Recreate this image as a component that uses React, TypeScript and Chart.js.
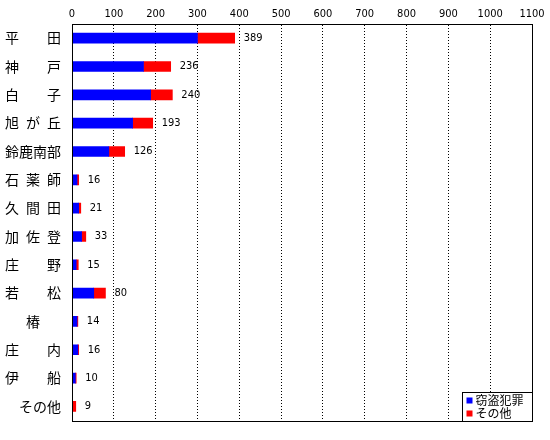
import { useEffect, useRef } from "react"
import { Chart, registerables } from "chart.js"

Chart.register(...registerables)

// 地区名（全角スペースで幅をそろえる）
const areas = [
  "平\u3000\u3000田",
  "神\u3000\u3000戸",
  "白\u3000\u3000子",
  "旭\u2002が\u2002丘",
  "鈴鹿南部",
  "石\u2002薬\u2002師",
  "久\u2002間\u2002田",
  "加\u2002佐\u2002登",
  "庄\u3000\u3000野",
  "若\u3000\u3000松",
  "\u3000\u2002椿",
  "庄\u3000\u3000内",
  "伊\u3000\u3000船",
  "\u3000その他",
]
const theft = [300, 171, 188, 145, 88, 12, 16, 23, 10, 52, 12, 14, 8, 0]
const others = [89, 65, 52, 48, 38, 4, 5, 10, 5, 28, 2, 2, 2, 9]
const seriesNames = ["窃盗犯罪", "その他"]
const seriesColors = ["#0000ff", "#ff0000"]

const jp = "'Noto Sans CJK JP', sans-serif"
const num = "'Liberation Sans Narrow', 'DejaVu Sans Condensed', 'Noto Sans', sans-serif"

const framePlugin = {
  id: "frame",
  afterDatasetsDraw(chart: Chart) {
    const { ctx, chartArea } = chart
    const metas = chart.data.datasets.map((_, i) => chart.getDatasetMeta(i))
    ctx.save()
    // totals beside bars
    ctx.fillStyle = "#000"
    ctx.font = `11px ${num}`
    ctx.textBaseline = "middle"
    ctx.textAlign = "left"
    areas.forEach((_, i) => {
      const total = theft[i] + others[i]
      const bar: any = metas[metas.length - 1].data[i]
      ctx.fillText(String(total), bar.x + 9, bar.y)
    })
    // plot box
    ctx.strokeStyle = "#000"
    ctx.lineWidth = 1
    ctx.strokeRect(
      Math.round(chartArea.left) + 0.5,
      Math.round(chartArea.top) + 0.5,
      Math.round(chartArea.right - chartArea.left),
      Math.round(chartArea.bottom - chartArea.top)
    )
    // legend in lower right corner
    const w = 70
    const h = 29
    const lx = Math.round(chartArea.right) - w + 0.5
    const ly = Math.round(chartArea.bottom) - h + 0.5
    ctx.fillStyle = "#fff"
    ctx.fillRect(lx, ly, w, h)
    ctx.strokeRect(lx, ly, w, h)
    ctx.font = `12px ${jp}`
    seriesNames.forEach((name, i) => {
      const cy = ly + 8 + i * 13
      ctx.fillStyle = seriesColors[i]
      ctx.fillRect(lx + 4, cy - 3, 6, 6)
      ctx.fillStyle = "#000"
      ctx.fillText(name, lx + 13, cy)
    })
    ctx.restore()
  },
}

function BarChart() {
  const canvasRef = useRef<HTMLCanvasElement>(null)
  const chartRef = useRef<Chart | null>(null)

  useEffect(() => {
    if (!canvasRef.current) return
    document.body.style.margin = "0"
    chartRef.current?.destroy()

    chartRef.current = new Chart(canvasRef.current, {
      type: "bar",
      data: {
        labels: areas,
        datasets: [
          { label: seriesNames[0], data: theft, backgroundColor: seriesColors[0], barThickness: 10 },
          { label: seriesNames[1], data: others, backgroundColor: seriesColors[1], barThickness: 10 },
        ],
      },
      options: {
        indexAxis: "y",
        animation: false,
        responsive: false,
        devicePixelRatio: 1,
        layout: { padding: { left: 5, right: 18, top: 0, bottom: 19 } },
        plugins: {
          legend: { display: false },
          tooltip: { enabled: false },
        },
        scales: {
          x: {
            position: "top",
            stacked: true,
            min: 0,
            max: 1100,
            afterFit: (scale: any) => {
              scale.height = 24
            },
            ticks: {
              stepSize: 100,
              color: "#000",
              font: { family: num, size: 11 },
              padding: 3,
              callback: (v: any) => String(v),
            },
            grid: { color: "#000", lineWidth: 1, drawTicks: false },
            border: { color: "#000", dash: [1, 2] },
          },
          y: {
            stacked: true,
            afterFit: (scale: any) => {
              scale.width = 67
            },
            ticks: {
              color: "#000",
              font: { family: jp, size: 14 },
              crossAlign: "far",
              padding: 11,
              autoSkip: false,
            },
            grid: { display: false, drawTicks: false },
            border: { color: "#000" },
          },
        },
      },
      plugins: [framePlugin],
    })

    return () => {
      chartRef.current?.destroy()
      chartRef.current = null
    }
  }, [])

  return <canvas ref={canvasRef} width={550} height={440}></canvas>
}

export default function App() {
  return (
    <div style={{ width: 550, height: 440, background: "#fff" }}>
      <BarChart />
    </div>
  )
}
